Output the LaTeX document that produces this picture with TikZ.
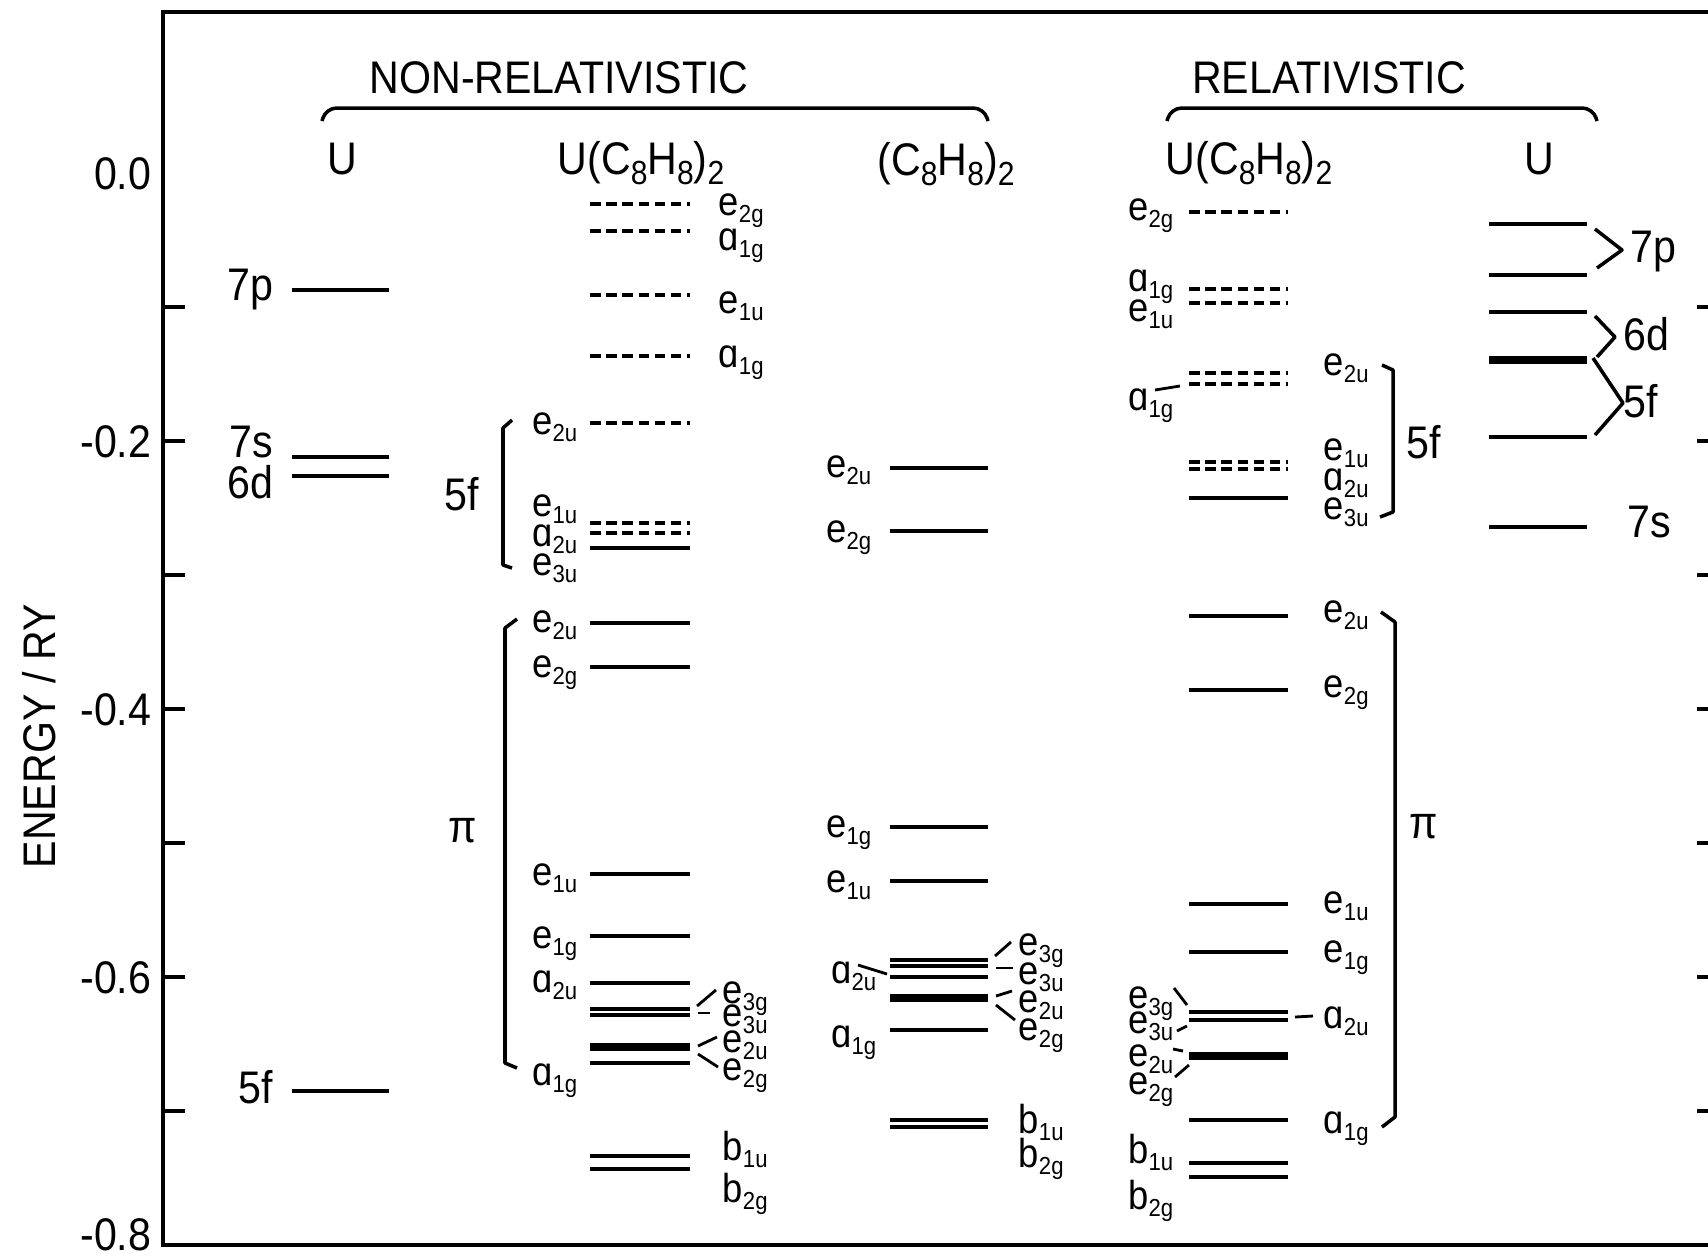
\documentclass[tikz,border=0pt]{standalone}
\usepackage{fontspec}
\setmainfont{Liberation Sans}[FakeStretch=0.9]
\usetikzlibrary{positioning}

\newcommand{\symlab}[2]{#1\raisebox{-2pt}{\fontsize{7}{7.5}\selectfont#2}}
\newcommand{\lowsub}[1]{\raisebox{-3pt}{\fontsize{9.5}{10}\selectfont#1}}
\newcommand{\ucot}{U(C\lowsub{8}H\lowsub{8})\lowsub{2}}

\begin{document}
\begin{tikzpicture}[x=0.01cm, y=-0.01cm,
		lvl/.style={line width=1pt},
		lvlthick/.style={line width=2.3pt},
		lvldash/.style={line width=1pt, dash pattern=on 3pt off 1.6pt},
		txt/.style={font=\fontsize{13}{15}\selectfont, inner sep=0pt},
		lab/.style={font=\fontsize{11.5}{13}\selectfont, inner sep=0pt},
		lead/.style={line width=0.8pt},
		brk/.style={line width=1pt, line join=round}]
	\useasboundingbox (0,0) rectangle (1708,1256);

	% frame and ticks
	\draw[line width=1.1pt] (1708,12) -- (163,12) -- (163,1245) -- (1708,1245);
	\foreach \k in {1,...,7} {
		\draw[line width=1.1pt] (163,173+134*\k) -- +(22,0);
		\draw[line width=1.1pt] (1708,173+134*\k) -- +(-11,0);
	}
	\foreach \v/\k in {0.0/0,-0.2/2,-0.4/4,-0.6/6}
		\node[txt, anchor=base east] (ax\k) at (152,189+134*\k) {\v};
	\node[txt, anchor=base east] (ax8) at (152,1250) {-0.8};
	\node[txt, rotate=90] (ylab) at (39,736) {ENERGY / RY};

	% headings
	\node[txt, anchor=base] (nonrel) at (559,93) {NON-RELATIVISTIC};
	\node[txt, anchor=base] (rel) at (1329,93) {RELATIVISTIC};
	\draw[brk, rounded corners=3pt] (322,121) -- (326,108) -- (984,108) -- (988,121);
	\draw[brk, rounded corners=3pt] (1167,121) -- (1171,108) -- (1593,108) -- (1597,121);
	\node[txt, anchor=base] (hA) at (342,174) {U};
	\node[txt, anchor=base] (hB) at (641,174) {\ucot};
	\node[txt, anchor=base] (hC) at (946,175) {(C\lowsub{8}H\lowsub{8})\lowsub{2}};
	\node[txt, anchor=base] (hD) at (1249,174) {\ucot};
	\node[txt, anchor=base] (hE) at (1539,174) {U};

	% U, non-relativistic
	\foreach \y in {290,457,476,1091}
		\draw[lvl] (292,\y) -- (389,\y);
	\node[txt, anchor=base east] (A7p) at (274,300) {7p};
	\node[txt, anchor=base east] (A7s) at (274,457) {7s};
	\node[txt, anchor=base east] (A6d) at (274,498) {6d};
	\node[txt, anchor=base east] (A5f) at (274,1103) {5f};

	% U(C8H8)2, non-relativistic
	\foreach \y in {204,231,295,356,423,523,533}
		\draw[lvldash] (590,\y) -- (690,\y);
	\foreach \y in {548,623,667,874,936,983,1009,1015,1063,1156,1169}
		\draw[lvl] (590,\y) -- (690,\y);
	\draw[lvlthick] (590,1047) -- (690,1047);
	\foreach \n/\s/\y in {e/2g/215,ɑ/1g/250,e/1u/313,ɑ/1g/367}
		\node[lab, anchor=base west] (Br\y) at (718,\y) {\symlab{\n}{\s}};
	\foreach \n/\s/\y in {e/3g/1003,e/3u/1026,e/2u/1052,e/2g/1080,b/1u/1160,b/2g/1202}
		\node[lab, anchor=base west] (Br\y) at (722,\y) {\symlab{\n}{\s}};
	\foreach \n/\s/\y in {e/2u/434,e/1u/516,ɑ/2u/546,e/3u/575,e/2u/632,e/2g/677,e/1u/885,e/1g/948,ɑ/2u/992,ɑ/1g/1085}
		\node[lab, anchor=base east] (Bl\y) at (578,\y) {\symlab{\n}{\s}};
	\draw[lead] (697,1006) -- (716,990);
	\draw[lead] (698,1013) -- (710,1013);
	\draw[lead] (698,1046) -- (717,1037);
	\draw[lead] (698,1054) -- (718,1067);
	\draw[brk] (512,420) -- (503,428) -- (503,565) -- (512,568);
	\node[txt, anchor=base east] (B5f) at (480,510) {5f};
	\draw[brk] (517,619) -- (505,628) -- (505,1063) -- (517,1068);
	\node[txt] (Bpi) at (463,831) {π};

	% (C8H8)2
	\foreach \y in {468,531,827,881,960,966,977,1030,1120,1127}
		\draw[lvl] (890,\y) -- (988,\y);
	\draw[lvlthick] (890,998) -- (988,998);
	\foreach \n/\s/\y in {e/2u/477,e/2g/542,e/1g/837,e/1u/892}
		\node[lab, anchor=base east] (Cl\y) at (872,\y) {\symlab{\n}{\s}};
	\foreach \n/\s/\y in {ɑ/2u/983,ɑ/1g/1047}
		\node[lab, anchor=base east] (Cl\y) at (877,\y) {\symlab{\n}{\s}};
	\foreach \n/\s/\y in {e/3g/955,e/3u/984,e/2u/1012,e/2g/1040,b/1u/1133,b/2g/1167}
		\node[lab, anchor=base west] (Cr\y) at (1018,\y) {\symlab{\n}{\s}};
	\draw[lead] (858,965) -- (887,974);
	\draw[lead] (995,956) -- (1011,942);
	\draw[lead] (996,968) -- (1013,968);
	\draw[lead] (996,996) -- (1012,991);
	\draw[lead] (996,1005) -- (1015,1020);

	% U(C8H8)2, relativistic
	\foreach \y in {212,289,303,373,384,462,469}
		\draw[lvldash] (1189,\y) -- (1288,\y);
	\foreach \y in {498,616,690,904,952,1012,1020,1120,1163,1177}
		\draw[lvl] (1189,\y) -- (1288,\y);
	\draw[lvlthick] (1189,1056) -- (1288,1056);
	\foreach \n/\s/\y in {e/2g/220,ɑ/1g/291,e/1u/321,ɑ/1g/410,e/3g/1008,e/3u/1033,e/2u/1066,e/2g/1094,b/1u/1163,b/2g/1209}
		\node[lab, anchor=base east] (Dl\y) at (1174,\y) {\symlab{\n}{\s}};
	\foreach \n/\s/\y in {e/2u/375,e/1u/460,ɑ/2u/490,e/3u/519,e/2u/622,e/2g/697,e/1u/913,e/1g/962,ɑ/2u/1028,ɑ/1g/1133}
		\node[lab, anchor=base west] (Dr\y) at (1323,\y) {\symlab{\n}{\s}};
	\draw[lead] (1155,390) -- (1180,386);
	\draw[lead] (1174,988) -- (1187,1005);
	\draw[lead] (1177,1031) -- (1187,1026);
	\draw[lead] (1173,1049) -- (1183,1051);
	\draw[lead] (1175,1077) -- (1189,1065);
	\draw[lead] (1295,1017) -- (1313,1016);
	\draw[brk] (1382,365) -- (1393,370) -- (1393,512) -- (1380,517);
	\node[txt, anchor=base west] (D5f) at (1406,458) {5f};
	\draw[brk] (1381,612) -- (1395,622) -- (1395,1117) -- (1382,1127);
	\node[txt] (Dpi) at (1424,827) {π};

	% U, relativistic
	\foreach \y in {224,275,312,437,527}
		\draw[lvl] (1489,\y) -- (1587,\y);
	\draw[lvlthick] (1489,360) -- (1587,360);
	\draw[brk] (1595,229) -- (1622,250) -- (1597,268);
	\draw[brk] (1595,316) -- (1615,337) -- (1597,357);
	\draw[brk] (1593,358) -- (1623,403) -- (1595,435);
	\node[txt, anchor=base west] (E7p) at (1630,262) {7p};
	\node[txt, anchor=base west] (E6d) at (1623,350) {6d};
	\node[txt, anchor=base west] (E5f) at (1623,417) {5f};
	\node[txt, anchor=base west] (E7s) at (1627,537) {7s};
\end{tikzpicture}
\end{document}
